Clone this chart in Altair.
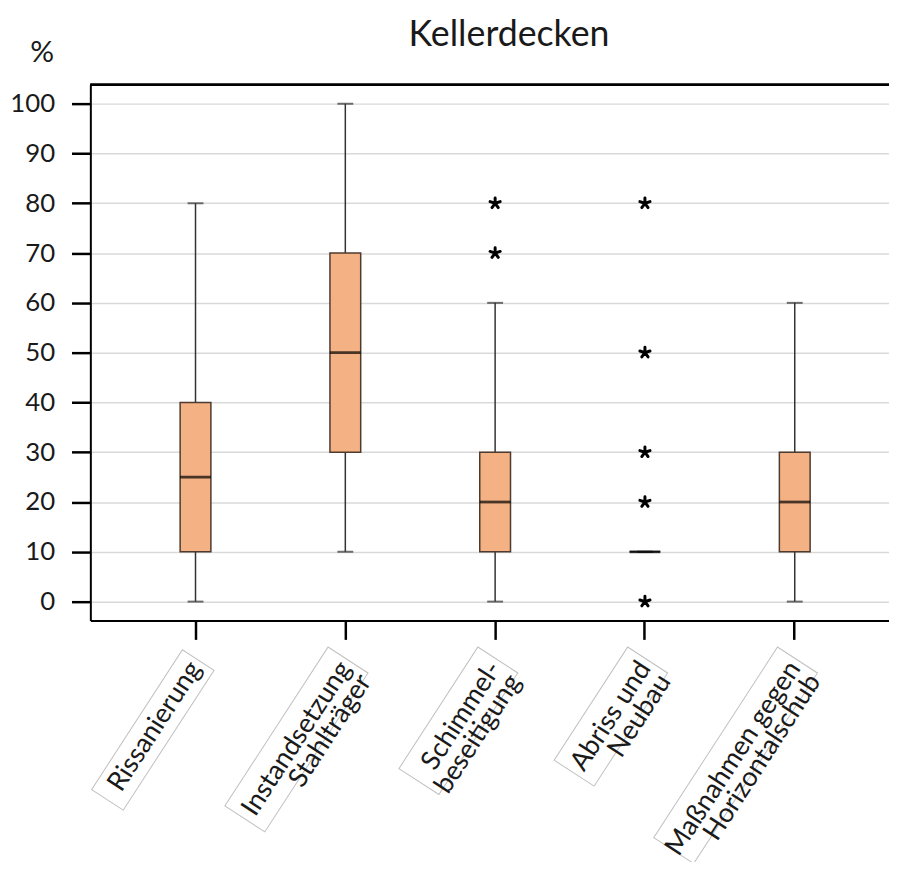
import altair as alt
import pandas as pd

# ---------------- data ----------------
chart_title = "Kellerdecken"
categories = ["Rissanierung", "Instandsetzung Stahlträger", "Schimmelbeseitigung",
              "Abriss und Neubau", "Maßnahmen gegen Horizontalschub"]
labels = ["Rissanierung", "Instandsetzung\nStahlträger", "Schimmel-\nbeseitigung",
          "Abriss und\nNeubau", "Maßnahmen gegen\nHorizontalschub"]
whisker_low = [0, 10, 0, 10, 0]
q1 = [10, 30, 10, 10, 10]
median = [25, 50, 20, 10, 20]
q3 = [40, 70, 30, 10, 30]
whisker_high = [80, 100, 60, 10, 60]
outlier_category = ["Schimmelbeseitigung", "Schimmelbeseitigung",
                    "Abriss und Neubau", "Abriss und Neubau", "Abriss und Neubau",
                    "Abriss und Neubau", "Abriss und Neubau"]
outlier_value = [70, 80, 0, 20, 30, 50, 80]
y_ticks = [0, 10, 20, 30, 40, 50, 60, 70, 80, 90, 100]

# ---------------- style ----------------
W, H = 805, 540
FONT = "Lato"
TXT = "#1a1a1a"
LABEL_ANGLE = 303          # = -57 degrees
LABEL_FS = 27
LABEL_LH = 24
LABEL_Y = H + 44           # anchor of rotated category labels (pixels)
label_text_len = [157, 180, 135, 125, 218]   # approx. text lengths (px) for the frames
label_lines = [1, 2, 2, 2, 2]


def frame_path(length, lines):
    t = 38 if lines == 1 else 48
    x0, x1 = -(length + 6), 5
    return f"M{x0},{-t/2}L{x1},{-t/2}L{x1},{t/2}L{x0},{t/2}Z"


frame_paths = [frame_path(l, n) for l, n in zip(label_text_len, label_lines)]
asterisk = ("M0,0L0,-1M0,0L0.951,-0.309M0,0L0.588,0.809"
            "M0,0L-0.588,0.809M0,0L-0.951,-0.309")

stats = pd.DataFrame({"cat": categories, "low": whisker_low, "q1": q1,
                      "median": median, "q3": q3, "high": whisker_high})
outliers = pd.DataFrame({"cat": outlier_category, "value": outlier_value})
label_df = pd.DataFrame({"cat": categories, "label": labels})
title_df = pd.DataFrame({"t": [chart_title]})

x_enc = alt.X("cat:N",
              scale=alt.Scale(domain=categories, paddingInner=0,
                              paddingOuter=0.1656, align=0.61),
              axis=alt.Axis(labels=False, title=None, grid=False,
                            domainColor="black", domainWidth=2,
                            tickColor="black", tickWidth=2.5, tickSize=19))

y_scale = alt.Scale(domain=[-3.8, 103.8], nice=False, zero=False)
y_axis = alt.Axis(values=y_ticks, title="%", titleAngle=0, titleX=-49, titleY=-32,
                  titleFont=FONT, titleFontSize=30, titleFontWeight="normal",
                  titleColor=TXT, titleAlign="center", titleBaseline="middle",
                  labelFont=FONT, labelFontSize=26, labelColor=TXT, labelPadding=17,
                  tickSize=19, tickWidth=2.5, tickColor="black",
                  domainColor="black", domainWidth=2,
                  grid=True, gridColor="#d9d9d9", gridWidth=1.5)


def Y(field):
    return alt.Y(f"{field}:Q", scale=y_scale, axis=y_axis)


base = alt.Chart(stats)

whisk = base.mark_rule(color="#333333", strokeWidth=1.5).encode(
    x=x_enc, y=Y("low"), y2="high")
box = base.mark_bar(size=31, color="#F4B183", stroke="#4d3b2f", strokeWidth=1.5).encode(
    x=x_enc, y=Y("q1"), y2="q3")
cap_low = base.mark_tick(color="#333333", size=16, thickness=2).encode(x=x_enc, y=Y("low"))
cap_high = base.mark_tick(color="#333333", size=16, thickness=2).encode(x=x_enc, y=Y("high"))
med = base.mark_tick(color="black", size=31, thickness=2.8).encode(x=x_enc, y=Y("median"))

outl = alt.Chart(outliers).mark_point(shape=asterisk, filled=False, color="black",
                                      strokeWidth=3, size=115, opacity=1,
                                      strokeCap="round").encode(
    x=x_enc, y=Y("value"))

top_rule = alt.Chart(stats).mark_rule(color="black", strokeWidth=2).encode(
    x=alt.value(0), x2=alt.value(W), y=alt.value(0))

label_frames = alt.Chart(label_df).mark_point(filled=False, stroke="#c0c0c0",
                                              strokeWidth=1, size=4, opacity=1,
                                              angle=LABEL_ANGLE).encode(
    x=x_enc, y=alt.value(LABEL_Y),
    shape=alt.Shape("cat:N", scale=alt.Scale(domain=categories, range=frame_paths),
                    legend=None))

label_text = alt.Chart(label_df).mark_text(align="right", baseline="middle", font=FONT,
                                           fontSize=LABEL_FS, lineBreak="\n",
                                           lineHeight=LABEL_LH,
                                           color=TXT, angle=LABEL_ANGLE).encode(
    x=x_enc, y=alt.value(LABEL_Y), text="label:N")

title_text = alt.Chart(title_df).mark_text(align="center", baseline="middle", font=FONT,
                                           fontSize=36, color=TXT).encode(
    x=alt.value(422), y=alt.value(-50), text="t:N")

chart = alt.layer(whisk, box, cap_low, cap_high, med, outl, top_rule,
                  label_frames, label_text, title_text).properties(
    width=W, height=H, autosize="none",
    padding={"left": 83, "top": 74, "right": 0, "bottom": 240},
).configure_view(stroke=None)

chart.save("out.html", embed_options={"renderer": "svg", "actions": False})
